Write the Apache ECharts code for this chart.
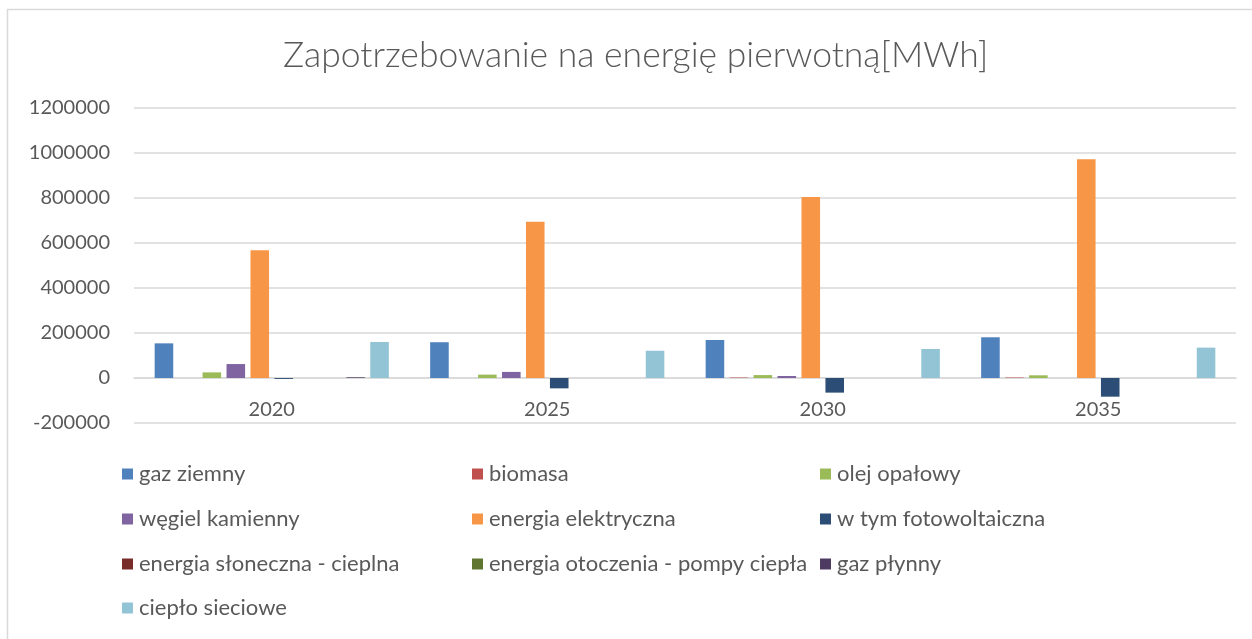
<!DOCTYPE html>
<html>
<head>
<meta charset="utf-8">
<script src="https://cdn.jsdelivr.net/npm/echarts@6/dist/echarts.min.js"></script>
<style>
  html, body { margin: 0; padding: 0; background: #fff; }
  #chart { width: 1252px; height: 639px; }
</style>
</head>
<body>
<div id="chart"></div>
<script>
// Years on the category axis
const years = ['2020', '2025', '2030', '2035'];

// Primary energy demand per carrier [MWh]
const gazZiemny = [154000, 159000, 169000, 181000];
const biomasa = [0, 0, 2000, 2000];
const olejOpalowy = [25000, 15000, 13000, 12000];
const wegielKamienny = [62000, 27000, 9000, 0];
const energiaElektryczna = [568000, 694000, 804000, 972000];
const fotowoltaiczna = [-4000, -46000, -65000, -83000];
const slonecznaCieplna = [0, 0, 0, 0];
const pompyCiepla = [0, 0, 0, 0];
const gazPlynny = [3000, 0, 0, 0];
const cieploSieciowe = [160000, 121000, 129000, 135000];

// Value-axis range and step
const yMin = -200000;
const yMax = 1200000;
const yStep = 200000;

const seriesNames = [
  'gaz ziemny', 'biomasa', 'olej opałowy',
  'węgiel kamienny', 'energia elektryczna', 'w tym fotowoltaiczna',
  'energia słoneczna - cieplna', 'energia otoczenia - pompy ciepła', 'gaz płynny',
  'ciepło sieciowe'
];
const seriesData = [
  gazZiemny, biomasa, olejOpalowy, wegielKamienny, energiaElektryczna,
  fotowoltaiczna, slonecznaCieplna, pompyCiepla, gazPlynny, cieploSieciowe
];
const colors = [
  '#4F81BD', '#C0504D', '#9BBB59', '#8064A2', '#F79646',
  '#2C4D75', '#772C2A', '#5F7530', '#4D3B62', '#93C4D6'
];

const textColor = '#595959';
const fontFamily = 'Lato, "Open Sans", sans-serif';

// Legend laid out as a 3-column grid, one component per entry
const legendCols = [122, 472, 820];
const legendRows = [463, 508, 553, 597];
const legends = seriesNames.map((name, i) => ({
  data: [name],
  left: legendCols[i % 3],
  top: legendRows[Math.floor(i / 3)],
  itemWidth: 11,
  itemHeight: 11,
  itemGap: 0,
  padding: 0,
  icon: 'rect',
  selectedMode: false,
  textStyle: { color: textColor, fontSize: 22, fontFamily: fontFamily, padding: [0, 0, 0, 1] }
}));

const chart = echarts.init(document.getElementById('chart'), null, { renderer: 'canvas' });
chart.setOption({
  animation: false,
  backgroundColor: '#ffffff',
  color: colors,
  title: {
    text: 'Zapotrzebowanie na energię pierwotną[MWh]',
    left: 278,
    top: 33,
    textStyle: { color: textColor, fontSize: 35.5, fontWeight: 300, fontFamily: fontFamily }
  },
  graphic: [{
    type: 'rect',
    shape: { x: 7.5, y: 9.5, width: 1400, height: 800 },
    style: { fill: 'none', stroke: '#d9d9d9', lineWidth: 1.5 },
    silent: true
  }],
  legend: legends,
  grid: { left: 134, right: 16, top: 108, height: 315, containLabel: false },
  xAxis: {
    type: 'category',
    data: years,
    axisTick: { show: false },
    axisLine: { onZero: false, lineStyle: { color: '#d9d9d9', width: 1.5 } },
    axisLabel: { color: textColor, fontSize: 20, fontFamily: fontFamily, margin: 22 }
  },
  yAxis: {
    type: 'value',
    min: yMin,
    max: yMax,
    interval: yStep,
    axisLine: { show: false },
    axisTick: { show: false },
    splitLine: { lineStyle: { color: '#d9d9d9', width: 1.5 } },
    axisLabel: {
      color: textColor, fontSize: 20, fontFamily: fontFamily, margin: 24,
      formatter: (v) => String(v)
    }
  },
  series: seriesNames.map((name, i) => ({
    name: name,
    type: 'bar',
    data: seriesData[i],
    barGap: '29%',
    barCategoryGap: '15%'
  }))
});

// Put the category axis (line and labels) on the zero value line
const zeroY = chart.convertToPixel({ yAxisIndex: 0 }, 0);
const bottomY = chart.convertToPixel({ yAxisIndex: 0 }, yMin);
chart.setOption({ xAxis: { offset: zeroY - bottomY } });
</script>
</body>
</html>
